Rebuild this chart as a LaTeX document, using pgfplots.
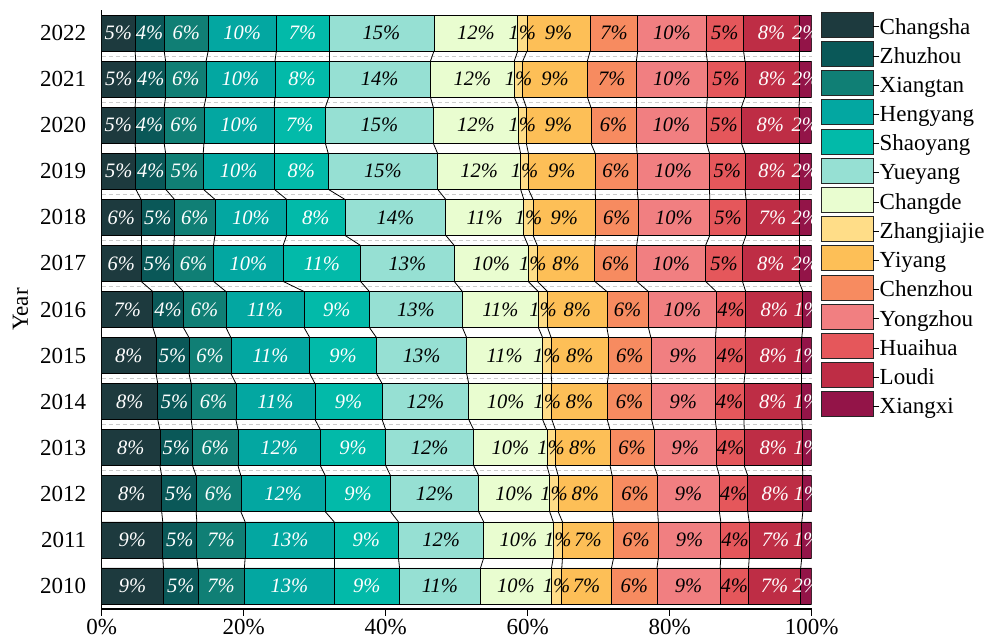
\documentclass[border=0pt]{standalone}
\usepackage{fontspec}
\setmainfont{Liberation Serif}
\usepackage{pgfplots}
\usepackage{pgfplotstable}
\pgfplotsset{compat=1.18}

\definecolor{cChangsha}{HTML}{1D3A3E}
\definecolor{cZhuzhou}{HTML}{0A5858}
\definecolor{cXiangtan}{HTML}{107F75}
\definecolor{cHengyang}{HTML}{03A7A1}
\definecolor{cShaoyang}{HTML}{02BAA9}
\definecolor{cYueyang}{HTML}{96E0D3}
\definecolor{cChangde}{HTML}{E9FDD0}
\definecolor{cZhangjiajie}{HTML}{FFDD88}
\definecolor{cYiyang}{HTML}{FDBF57}
\definecolor{cChenzhou}{HTML}{F78B60}
\definecolor{cYongzhou}{HTML}{F17F81}
\definecolor{cHuaihua}{HTML}{E5575B}
\definecolor{cLoudi}{HTML}{BE2D45}
\definecolor{cXiangxi}{HTML}{931448}

\newcommand\tickfont{\fontsize{23}{27}\selectfont}
\newcommand\barfont{\fontsize{20.5}{24}\selectfont\itshape}

% share of each city in the provincial total, per year (%)
\pgfplotstableread{
Year Changsha Zhuzhou Xiangtan Hengyang Shaoyang Yueyang Changde Zhangjiajie Yiyang Chenzhou Yongzhou Huaihua Loudi Xiangxi
2010 8.7  4.85 6.55 12.65 9.2  11.4 10.0 1.45 7.0  6.4  8.9  4.0  7.35 1.55
2011 8.6  4.8  6.8  12.55 9.05 12.0 9.8  1.3  7.2  6.3  8.8  4.0  7.4  1.4
2012 8.45 4.85 6.3  11.9  9.2  12.4 10.0 1.2  7.6  6.4  8.7  4.0  7.75 1.25
2013 8.2  4.6  6.4  11.6  9.2  12.4 10.3 1.2  7.7  6.2  8.8  3.9  8.2  1.3
2014 7.9  4.7  6.3  11.15 9.45 12.2 10.4 1.3  7.8  6.25 8.95 4.05 8.15 1.4
2015 7.65 4.65 5.9  11.1  9.4  12.7 10.7 1.2  8.1  5.95 9.1  4.15 8.0  1.4
2016 7.2  4.3  6.0  11.0  9.2  13.1 10.7 1.3  8.35 5.85 9.55 4.15 8.05 1.25
2017 5.55 4.6  5.6  9.8   10.9 13.2 10.4 1.3  8.1  5.9  9.7  5.2  7.95 1.8
2018 5.55 4.7  5.7  10.1  8.2  14.2 11.0 1.3  8.8  6.0  10.1 5.1  7.45 1.8
2019 4.8  4.2  5.3  10.0  7.6  15.4 11.7 1.1  9.4  5.9  10.2 5.0  7.6  1.8
2020 4.7  4.1  5.6  9.9   7.2  15.2 12.0 1.1  9.1  6.4  9.9  4.9  8.1  1.8
2021 4.8  4.2  5.7  9.7   7.6  14.3 11.8 1.2  9.1  6.9  10.0 5.3  7.7  1.7
2022 4.7  4.1  6.2  9.6   7.4  14.8 11.8 1.3  8.9  6.7  9.6  5.3  7.9  1.7
}\data

% cumulative boundaries of the stacked segments
\pgfplotstablecreatecol[expr={\thisrow{Changsha}}]{c1}\data
\pgfplotstablecreatecol[expr={\thisrow{c1}+\thisrow{Zhuzhou}}]{c2}\data
\pgfplotstablecreatecol[expr={\thisrow{c2}+\thisrow{Xiangtan}}]{c3}\data
\pgfplotstablecreatecol[expr={\thisrow{c3}+\thisrow{Hengyang}}]{c4}\data
\pgfplotstablecreatecol[expr={\thisrow{c4}+\thisrow{Shaoyang}}]{c5}\data
\pgfplotstablecreatecol[expr={\thisrow{c5}+\thisrow{Yueyang}}]{c6}\data
\pgfplotstablecreatecol[expr={\thisrow{c6}+\thisrow{Changde}}]{c7}\data
\pgfplotstablecreatecol[expr={\thisrow{c7}+\thisrow{Zhangjiajie}}]{c8}\data
\pgfplotstablecreatecol[expr={\thisrow{c8}+\thisrow{Yiyang}}]{c9}\data
\pgfplotstablecreatecol[expr={\thisrow{c9}+\thisrow{Chenzhou}}]{c10}\data
\pgfplotstablecreatecol[expr={\thisrow{c10}+\thisrow{Yongzhou}}]{c11}\data
\pgfplotstablecreatecol[expr={\thisrow{c11}+\thisrow{Huaihua}}]{c12}\data
\pgfplotstablecreatecol[expr={\thisrow{c12}+\thisrow{Loudi}}]{c13}\data
\pgfplotstablecreatecol[expr={\thisrow{c13}+\thisrow{Xiangxi}}]{c14}\data
% shift of each boundary from one year to the next (for the connector lines)
\pgfplotsforeachungrouped \k in {1,...,13}{%
  \edef\tmp{\noexpand\pgfplotstablecreatecol[expr={(\noexpand\nextrow{c\k}+0)-\noexpand\thisrow{c\k}}]{d\k}\noexpand\data}\tmp}

\pgfplotsset{
  citybar/.style={fill=#1, draw=black, line width=0.7pt,
    legend image code/.code={%
      \draw[fill=#1, draw=black!85, line width=0.9pt] (0pt,-10.5pt) rectangle (52pt,14.5pt);
      \path (52pt,0pt) -- (58pt,0pt);}},
}

\newcommand\seglabel[3]{%
  \addplot[draw=none, point meta=explicit,
    nodes near coords={\pgfmathprintnumber[fixed,precision=0]{\pgfplotspointmeta}\%},
    every node near coord/.append style={anchor=center, font=\barfont, text=#3, inner sep=0pt}]
    table[x expr={\thisrow{#2}-0.5*\thisrow{#1}}, y=Year, meta=#1] {\data};}

\begin{document}
\begin{tikzpicture}
\begin{axis}[
  name=ax,
  scale only axis, width=710pt, height=599pt,
  xbar stacked, bar width=0.78,
  xmin=0, xmax=100, ymin=2009.5, ymax=2022.5,
  axis lines*=left, axis line style={black, line width=1.1pt},
  tick align=outside, major tick length=7pt,
  xtick={0,20,...,100}, xticklabel={\pgfmathprintnumber{\tick}\%},
  ytick={2010,...,2022},
  ytick style={draw=none}, xtick style={black, line width=1.1pt},
  yticklabel style={xshift=-5pt},
  /pgf/number format/assume math mode=true,
  /pgf/number format/1000 sep={},
  tick label style={font=\tickfont},
  ylabel={Year},
  ylabel style={font=\tickfont, at={(axis description cs:-0.0986,0.5)}, anchor=south},
  extra y ticks={2012.5,2013.5,2014.5,2016.5,2017.5,2018.5,2020.5,2021.5},
  extra y tick labels={},
  extra y tick style={grid=major, major grid style={black!20, dash pattern=on 4pt off 3pt, line width=0.7pt}},
  legend style={at={(1,1)}, anchor=north west, xshift=9pt, yshift=-1.7pt,
    draw=none, fill=none, inner sep=0pt, row sep=3.3pt, column sep=0pt,
    font=\tickfont, nodes={inner sep=0pt}},
  legend cell align=left,
]
\addplot[citybar=cChangsha]    table[x=Changsha,    y=Year] {\data}; \addlegendentry{Changsha}
\addplot[citybar=cZhuzhou]     table[x=Zhuzhou,     y=Year] {\data}; \addlegendentry{Zhuzhou}
\addplot[citybar=cXiangtan]    table[x=Xiangtan,    y=Year] {\data}; \addlegendentry{Xiangtan}
\addplot[citybar=cHengyang]    table[x=Hengyang,    y=Year] {\data}; \addlegendentry{Hengyang}
\addplot[citybar=cShaoyang]    table[x=Shaoyang,    y=Year] {\data}; \addlegendentry{Shaoyang}
\addplot[citybar=cYueyang]     table[x=Yueyang,     y=Year] {\data}; \addlegendentry{Yueyang}
\addplot[citybar=cChangde]     table[x=Changde,     y=Year] {\data}; \addlegendentry{Changde}
\addplot[citybar=cZhangjiajie] table[x=Zhangjiajie, y=Year] {\data}; \addlegendentry{Zhangjiajie}
\addplot[citybar=cYiyang]      table[x=Yiyang,      y=Year] {\data}; \addlegendentry{Yiyang}
\addplot[citybar=cChenzhou]    table[x=Chenzhou,    y=Year] {\data}; \addlegendentry{Chenzhou}
\addplot[citybar=cYongzhou]    table[x=Yongzhou,    y=Year] {\data}; \addlegendentry{Yongzhou}
\addplot[citybar=cHuaihua]     table[x=Huaihua,     y=Year] {\data}; \addlegendentry{Huaihua}
\addplot[citybar=cLoudi]       table[x=Loudi,       y=Year] {\data}; \addlegendentry{Loudi}
\addplot[citybar=cXiangxi]     table[x=Xiangxi,     y=Year] {\data}; \addlegendentry{Xiangxi}
\end{axis}

% connector lines between consecutive years and the percentage labels
\begin{axis}[
  scale only axis, width=710pt, height=599pt,
  xmin=0, xmax=100, ymin=2009.5, ymax=2022.5,
  hide axis, clip marker paths=true,
  /pgf/number format/assume math mode=true,
]
\pgfplotsinvokeforeach{1,...,13}{%
  \addplot[black, line width=0.8pt, quiver={u=\thisrow{d#1}, v=0.22}]
    table[x=c#1, y expr=\thisrow{Year}+0.39, skip coords between index={12}{13}] {\data};
}
\seglabel{Changsha}{c1}{white}
\seglabel{Zhuzhou}{c2}{white}
\seglabel{Xiangtan}{c3}{white}
\seglabel{Hengyang}{c4}{white}
\seglabel{Shaoyang}{c5}{white}
\seglabel{Yueyang}{c6}{black}
\seglabel{Changde}{c7}{black}
\seglabel{Zhangjiajie}{c8}{black}
\seglabel{Yiyang}{c9}{black}
\seglabel{Chenzhou}{c10}{black}
\seglabel{Yongzhou}{c11}{black}
\seglabel{Huaihua}{c12}{black}
\seglabel{Loudi}{c13}{white}
\seglabel{Xiangxi}{c14}{white}
\end{axis}

% page margins around the chart
\path ([xshift=-101.7pt,yshift=-32pt]ax.south west) rectangle ([xshift=175.3pt,yshift=10pt]ax.north east);
\end{tikzpicture}
\end{document}
